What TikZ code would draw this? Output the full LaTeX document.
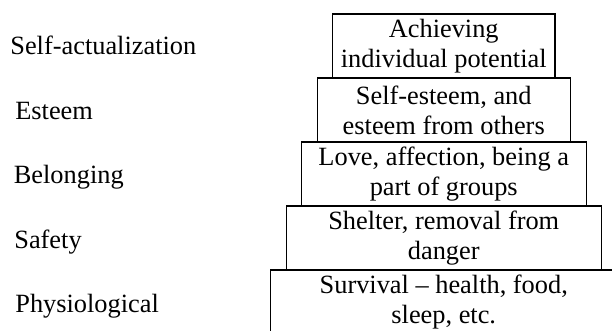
\documentclass[tikz,border=0pt]{standalone}
\usepackage{fontspec}
\setmainfont{Liberation Serif}
\usepackage{tikz}
\usetikzlibrary{positioning}

\begin{document}
\begin{tikzpicture}
            \tikzstyle{every node}=[font=\fontsize{15}{17}\selectfont]
            \tikzstyle{level}=[draw, line width=0.7pt, minimum height=1.28cm, inner sep=0pt, outer sep=0pt, align=center]
            \tikzstyle{need}=[anchor=base west, inner sep=0pt]
            \useasboundingbox (0,0) rectangle (12.24,6.62);
            \clip (0,0) rectangle (12.24,6.62);
            \node [level, minimum width=4.45cm] (actualization) at (8.875,5.70) {Achieving\\individual potential};
            \node [level, minimum width=5.06cm] (esteem) at (8.875,4.42) {Self-esteem, and\\esteem from others};
            \node [level, minimum width=5.70cm] (belonging) at (8.875,3.14) {Love, affection, being a\\part of groups};
            \node [level, minimum width=6.30cm] (safety) at (8.875,1.86) {Shelter, removal from\\danger};
            \node [level, minimum width=6.92cm] (physiological) at (8.875,0.58) {Survival -- health, food,\\sleep, etc.};
            \node [need] (lactualization) at (0.20,5.52) {Self-actualization};
            \node [need] (lesteem) at (0.30,4.23) {Esteem};
            \node [need] (lbelonging) at (0.27,2.94) {Belonging};
            \node [need] (lsafety) at (0.28,1.65) {Safety};
            \node [need] (lphysiological) at (0.30,0.36) {Physiological};
        \end{tikzpicture}
\end{document}
